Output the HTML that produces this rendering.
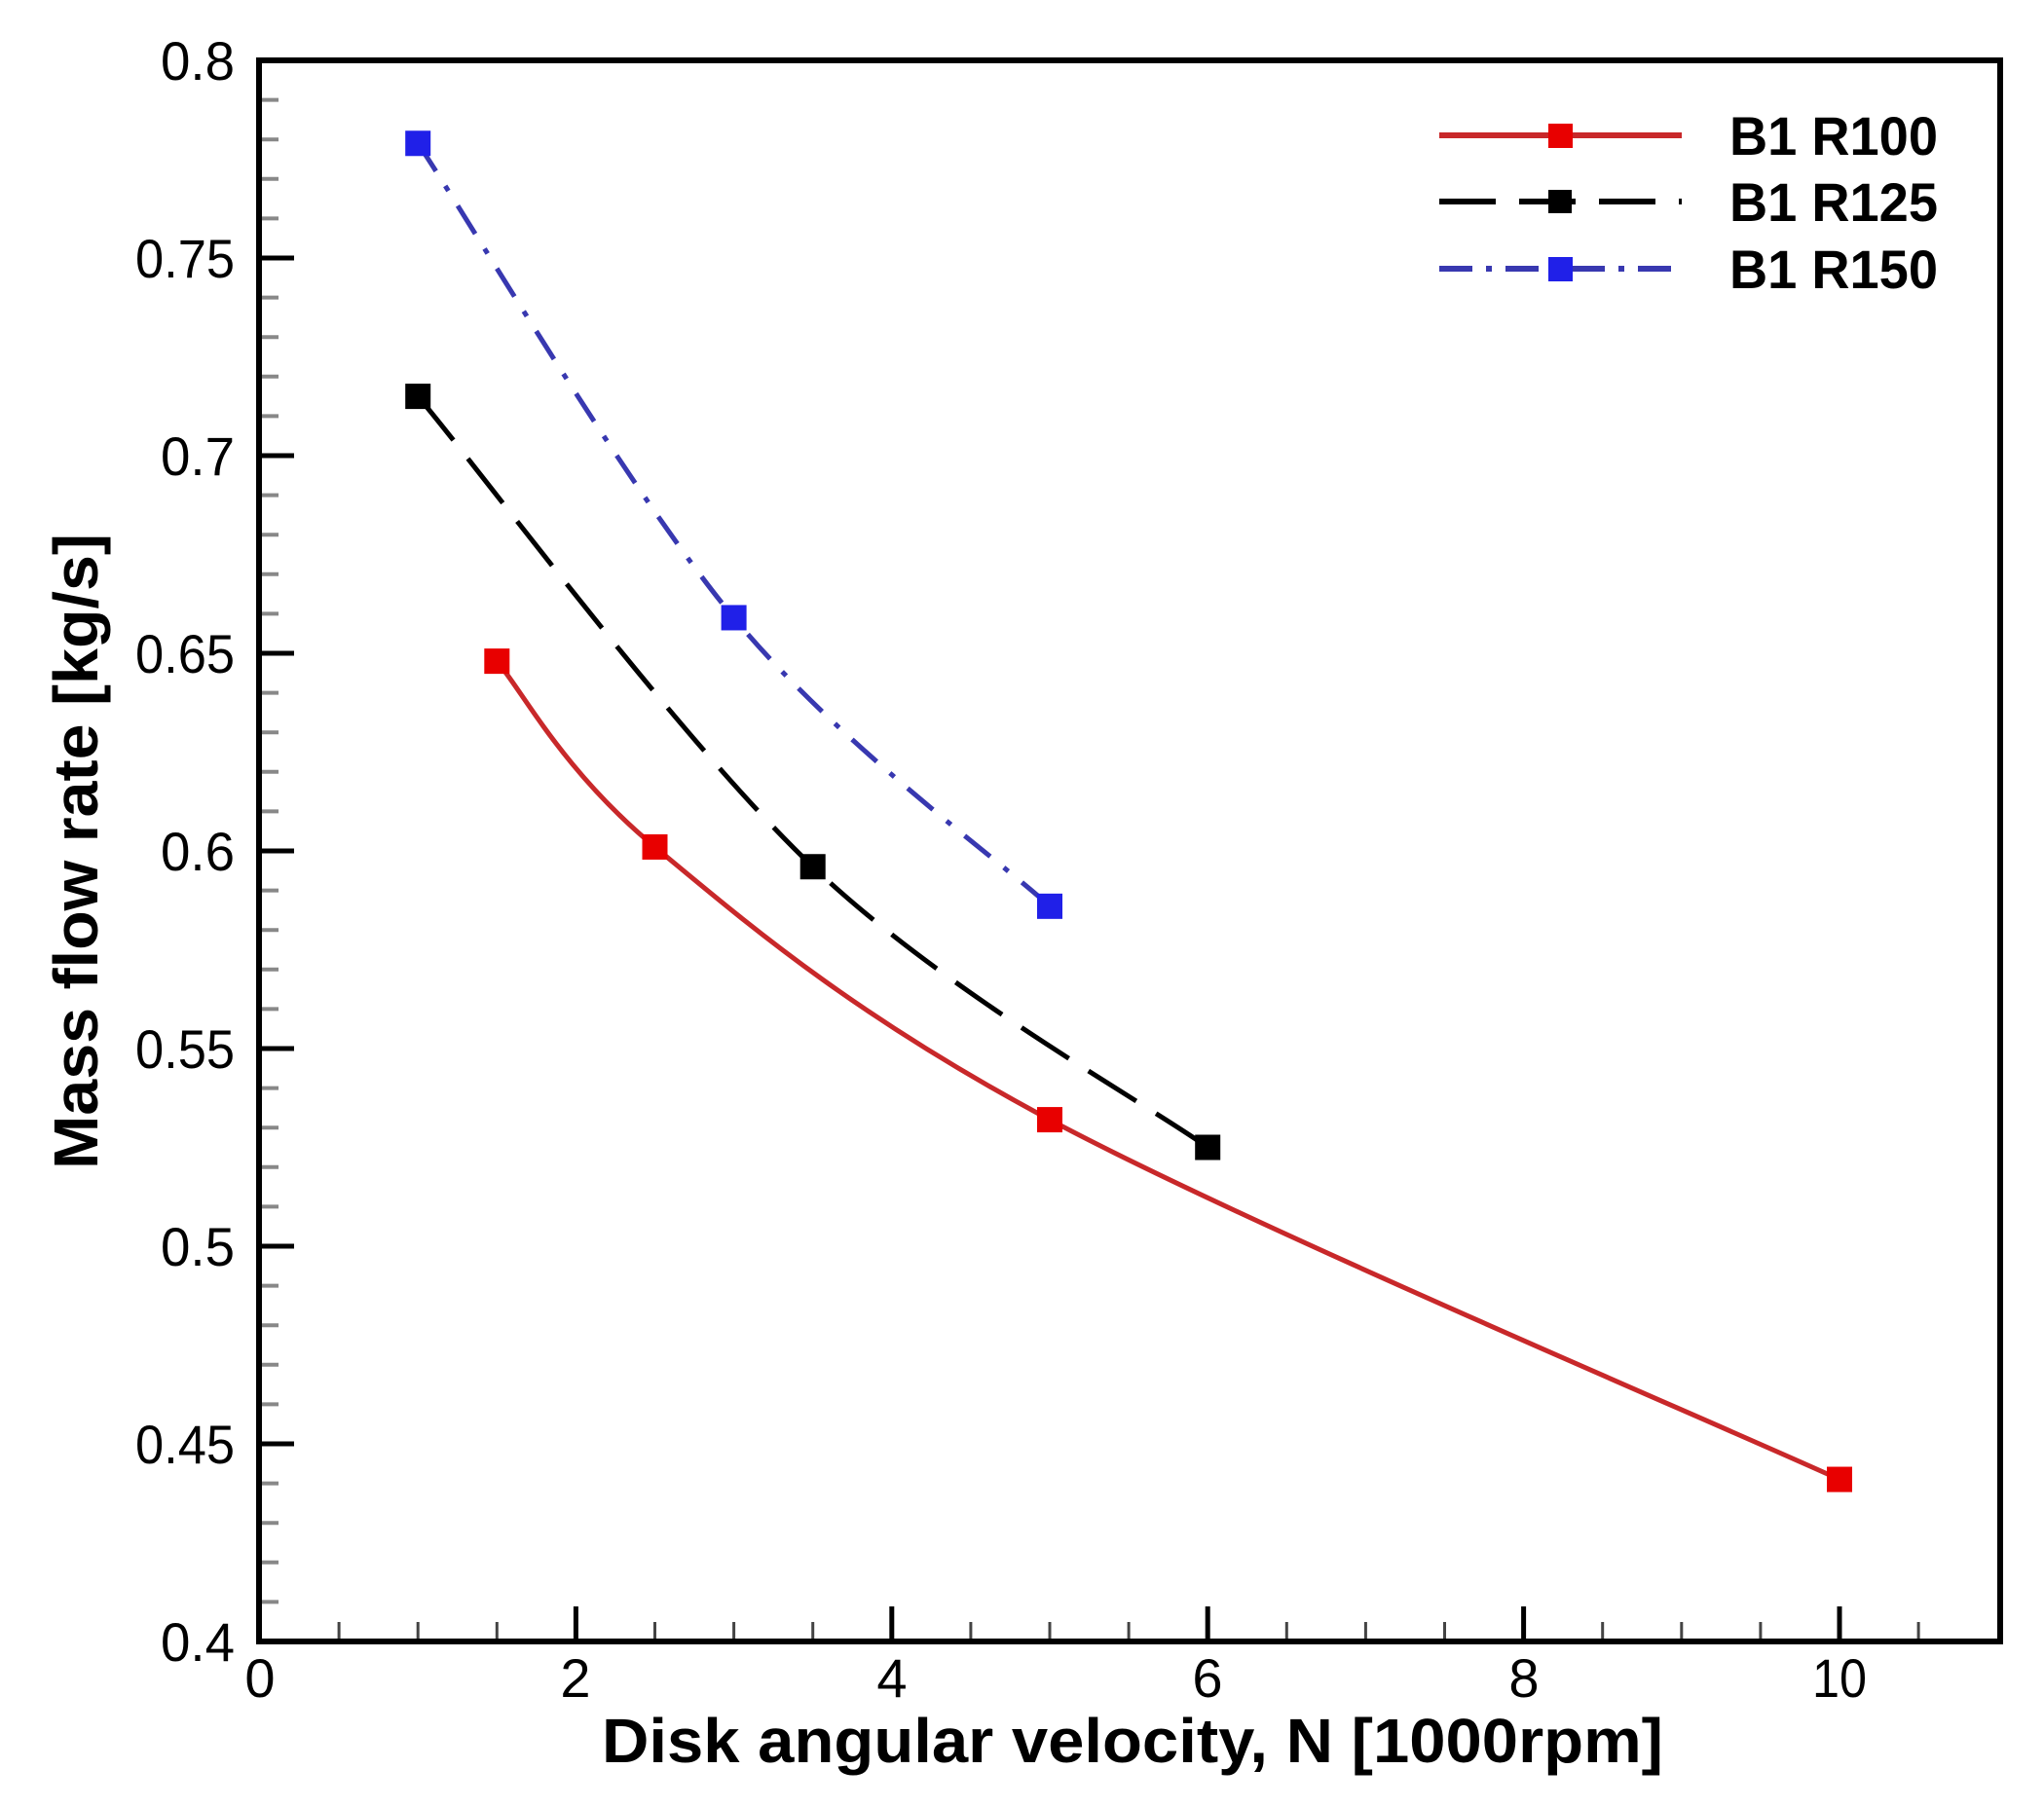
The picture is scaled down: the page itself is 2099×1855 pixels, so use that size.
<!DOCTYPE html>
<html><head><meta charset="utf-8"><style>
html,body{margin:0;padding:0;background:#fff}
svg{display:block}
text{font-family:"Liberation Sans",Arial,sans-serif;fill:#000}
</style></head><body>
<svg id="s" width="2099" height="1855" viewBox="0 0 2099 1855" xmlns="http://www.w3.org/2000/svg">
<g id="ticks"></g>
<g id="curves"></g>
<rect x="266" y="62" width="1788" height="1624" fill="none" stroke="#000" stroke-width="6"/>
<g font-size="56">
<text x="241" y="82" text-anchor="end" textLength="76" lengthAdjust="spacingAndGlyphs">0.8</text>
<text x="241" y="285" text-anchor="end" textLength="102" lengthAdjust="spacingAndGlyphs">0.75</text>
<text x="241" y="488" text-anchor="end" textLength="76" lengthAdjust="spacingAndGlyphs">0.7</text>
<text x="241" y="691" text-anchor="end" textLength="102" lengthAdjust="spacingAndGlyphs">0.65</text>
<text x="241" y="894" text-anchor="end" textLength="76" lengthAdjust="spacingAndGlyphs">0.6</text>
<text x="241" y="1097" text-anchor="end" textLength="102" lengthAdjust="spacingAndGlyphs">0.55</text>
<text x="241" y="1300" text-anchor="end" textLength="76" lengthAdjust="spacingAndGlyphs">0.5</text>
<text x="241" y="1503" text-anchor="end" textLength="102" lengthAdjust="spacingAndGlyphs">0.45</text>
<text x="241" y="1706" text-anchor="end" textLength="76" lengthAdjust="spacingAndGlyphs">0.4</text>
<text x="267" y="1743" text-anchor="middle">0</text>
<text x="591" y="1743" text-anchor="middle">2</text>
<text x="916" y="1743" text-anchor="middle">4</text>
<text x="1240" y="1743" text-anchor="middle">6</text>
<text x="1565" y="1743" text-anchor="middle">8</text>
<text x="1889" y="1743" text-anchor="middle" textLength="56" lengthAdjust="spacingAndGlyphs">10</text>
</g>
<text x="618" y="1810" font-size="64" font-weight="bold" textLength="1090" lengthAdjust="spacingAndGlyphs">Disk angular velocity, N [1000rpm]</text>
<text transform="translate(100,1201) rotate(-90)" font-size="64" font-weight="bold" textLength="653" lengthAdjust="spacingAndGlyphs">Mass flow rate [kg/s]</text>
<g id="legend">
<line x1="1478" y1="139" x2="1727" y2="139" stroke="#c8282a" stroke-width="6"/>
<rect x="1590" y="127" width="25" height="25" fill="#e80000"/>
<line x1="1478" y1="207" x2="1727" y2="207" stroke="#000" stroke-width="6" stroke-dasharray="58,24"/>
<rect x="1590" y="195" width="24" height="24" fill="#000"/>
<line x1="1478" y1="276" x2="1727" y2="276" stroke="#3838b0" stroke-width="6" stroke-dasharray="34,14,6,14"/>
<rect x="1590" y="264" width="25" height="25" fill="#2020e8"/>
<g font-size="56" font-weight="bold">
<text x="1776" y="159" textLength="214" lengthAdjust="spacingAndGlyphs">B1 R100</text>
<text x="1776" y="227" textLength="214" lengthAdjust="spacingAndGlyphs">B1 R125</text>
<text x="1776" y="296" textLength="214" lengthAdjust="spacingAndGlyphs">B1 R150</text>
</g>
</g>
</svg>
<script>
var NS="http://www.w3.org/2000/svg";
function X(v){return 267+v*162.2}
function Y(v){return 1686-(v-0.4)*4060}
function el(p,n,a){var e=document.createElementNS(NS,n);for(var k in a)e.setAttribute(k,a[k]);p.appendChild(e);return e}
var t=document.getElementById("ticks");
for(var i=1;i<40;i++){var y=1686-i*40.6;var maj=i%5==0;
el(t,"line",{x1:266,x2:266+(maj?36:20),y1:y,y2:y,stroke:maj?"#000":"#888","stroke-width":maj?5:4});}
for(var i=1;i<22;i++){var x=X(i*0.5);var maj=i%4==0;
el(t,"line",{x1:x,x2:x,y1:1686,y2:1686-(maj?36:20),stroke:maj?"#000":"#444","stroke-width":maj?5:3});}
function path(pts){var p=pts.map(function(d){return[X(d[0]),Y(d[1])]});
var s="M"+p[0][0]+","+p[0][1];
for(var i=0;i<p.length-1;i++){var p0=p[i-1]||p[i],p1=p[i],p2=p[i+1],p3=p[i+2]||p2;
var c1=[p1[0]+(p2[0]-p0[0])/6,p1[1]+(p2[1]-p0[1])/6],c2=[p2[0]-(p3[0]-p1[0])/6,p2[1]-(p3[1]-p1[1])/6];
s+=" C"+c1+" "+c2+" "+p2;}return s}
var c=document.getElementById("curves");
var series=[
{d:[[1.5,0.648],[2.5,0.601],[5,0.532],[10,0.441]],s:"#c8282a",m:"#e80000",da:"",w:5},
{d:[[1,0.715],[3.5,0.596],[6,0.525]],s:"#000",m:"#000",da:"58,24",w:5},
{d:[[1,0.779],[3,0.659],[5,0.586]],s:"#3838b0",m:"#2020e8",da:"34,18,6,18",w:5}];
series.forEach(function(S){
el(c,"path",{d:path(S.d),fill:"none",stroke:S.s,"stroke-width":S.w,"stroke-dasharray":S.da});
S.d.forEach(function(q){el(c,"rect",{x:X(q[0])-13,y:Y(q[1])-13,width:26,height:26,fill:S.m})});});
</script>
</body></html>
